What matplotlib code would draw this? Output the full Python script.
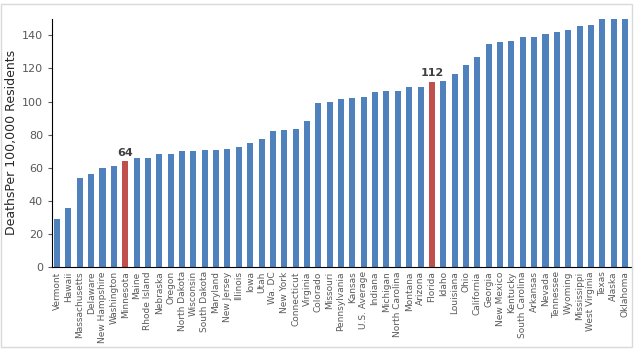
import numpy as np
import matplotlib.pyplot as plt
from matplotlib.patches import Rectangle

# Data
states = ["Vermont", "Hawaii", "Massachusetts", "Delaware", "New Hampshire", "Washington",
          "Minnesota", "Maine", "Rhode Island", "Nebraska", "Oregon", "North Dakota",
          "Wisconsin", "South Dakota", "Maryland", "New Jersey", "Illinois", "Iowa", "Utah",
          "Wa. DC", "New York", "Connecticut", "Virginia", "Colorado", "Missouri",
          "Pennsylvania", "Kansas", "U.S. Average", "Indiana", "Michigan", "North Carolina",
          "Montana", "Arizona", "Florida", "Idaho", "Louisiana", "Ohio", "California",
          "Georgia", "New Mexico", "Kentucky", "South Carolina", "Arkansas", "Nevada",
          "Tennessee", "Wyoming", "Mississippi", "West Virginia", "Texas", "Alaska", "Oklahoma"]
deaths = [29, 36, 54, 56, 60, 61, 64, 66, 66, 68.5, 68.5, 70, 70, 70.6, 71, 71.5, 72.6,
          75, 77.5, 82.5, 83, 83.7, 88, 99, 100, 101.6, 102, 103, 106, 106.6, 106.6,
          108.5, 109, 112, 112.5, 116.7, 122, 127, 135, 136, 136.4, 139, 139, 141, 142,
          143, 145.7, 146, 150, 150, 150]
highlight = {"Minnesota": "64", "Florida": "112"}

blue = "#4F81BD"
red = "#C0504D"
colors = [red if s in highlight else blue for s in states]

fig = plt.figure(figsize=(6.35, 3.6), dpi=100)
ax = fig.add_axes([0.082, 0.258, 0.913, 0.69])

x = np.arange(len(states))
ax.bar(x, deaths, width=0.53, color=colors)

for i, s in enumerate(states):
    if s in highlight:
        ax.text(i, deaths[i] + 2, highlight[s], ha="center", va="bottom",
                fontsize=8, fontweight="bold", color="#404040")

ax.set_xlim(-0.44, len(states) - 0.4)
ax.set_ylim(0, 150)
ax.set_yticks(range(0, 141, 20))
ax.set_xticks(x)
ax.set_xticklabels(states, rotation=90, fontsize=6.5, color="#595959")
ax.tick_params(axis="x", length=0, pad=3)
ax.tick_params(axis="y", labelsize=8, colors="#595959", length=3)
ax.set_ylabel("DeathsPer 100,000 Residents", fontsize=9, color="#262626")
ax.yaxis.set_label_coords(-0.058, 0.5)

for side in ["top", "right"]:
    ax.spines[side].set_visible(False)
ax.spines["left"].set_color("black")
ax.spines["bottom"].set_color("black")

fig.patches.append(Rectangle((0.002, 0.036), 0.993, 0.953, transform=fig.transFigure,
                             fill=False, edgecolor="#d9d9d9", linewidth=1))

plt.savefig("out.png")
